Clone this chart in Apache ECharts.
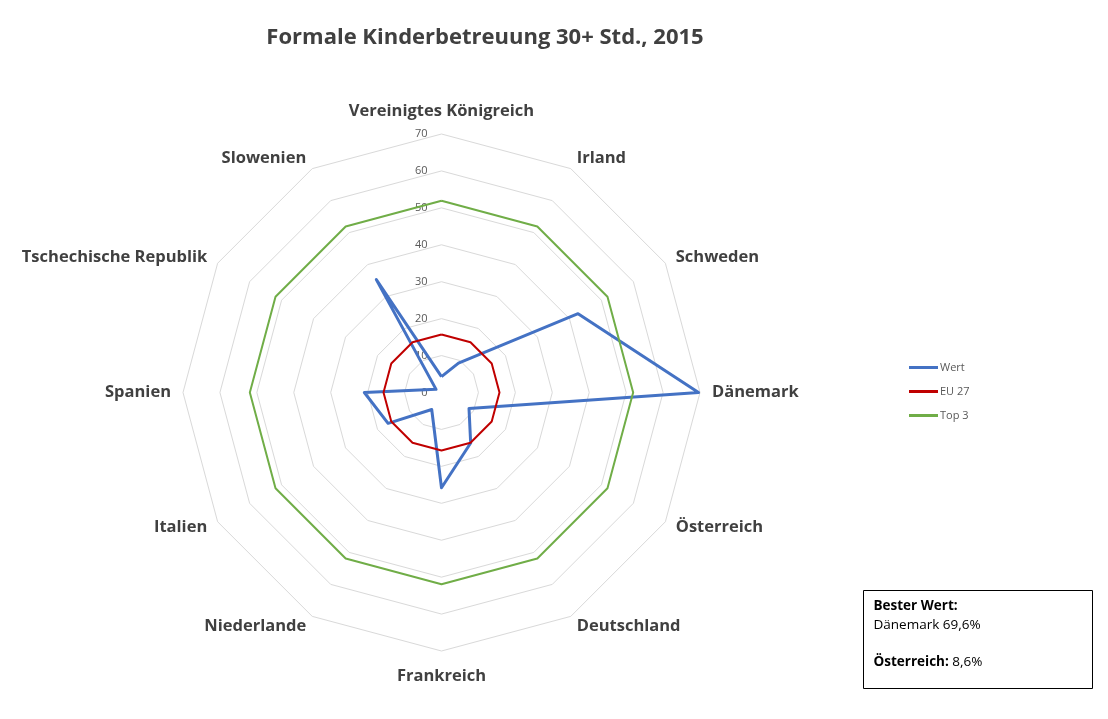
<!DOCTYPE html>
<html>
<head>
<meta charset="utf-8">
<script src="https://cdn.jsdelivr.net/npm/echarts@6/dist/echarts.min.js"></script>
<style>
html,body{margin:0;padding:0;background:#fff;}
#chart{width:1108px;height:719px;}
</style>
</head>
<body>
<div id="chart"></div>
<script>
// Categories in clockwise order starting at the top
const categories = ['Vereinigtes Königreich','Irland','Schweden','Dänemark','Österreich','Deutschland','Frankreich','Niederlande','Italien','Spanien','Tschechische Republik','Slowenien'];
const wert  = [4.3, 9.2, 42.7, 69.6, 8.6, 15.8, 25.8, 5.3, 16.7, 20.9, 1.7, 35.3];
const eu27  = [15.7, 15.7, 15.7, 15.7, 15.7, 15.7, 15.7, 15.7, 15.7, 15.7, 15.7, 15.7];
const top3  = [51.9, 51.9, 51.9, 51.9, 51.9, 51.9, 51.9, 51.9, 51.9, 51.9, 51.9, 51.9];
const tickValues = [0, 10, 20, 30, 40, 50, 60, 70];
const seriesNames = ['Wert', 'EU 27', 'Top 3'];

// ECharts radar runs counter-clockwise: reorder to keep the top first, then reversed
function ccw(arr){ return [arr[0]].concat(arr.slice(1).reverse()); }

const FONT = '"Open Sans", "Noto Sans", sans-serif';
const CX = 441.5, CY = 392.5, R = 258.5;
const MAX = tickValues[tickValues.length - 1];
const STEP = tickValues[1] - tickValues[0];
const nameStyle = {fontFamily: FONT, fontWeight: 'bold', fontSize: 16.5, color: '#404040'};

const chart = echarts.init(document.getElementById('chart'), null, {renderer: 'canvas'});
chart.setOption({
  backgroundColor: '#ffffff',
  animation: false,
  title: {
    text: 'Formale Kinderbetreuung 30+ Std., 2015',
    left: 480, top: 22, textAlign: 'center',
    textStyle: {fontFamily: FONT, fontWeight: 'bold', fontSize: 22, color: '#404040'}
  },
  legend: {
    orient: 'vertical',
    left: 904, top: 357,
    itemWidth: 29, itemHeight: 3, itemGap: 13,
    icon: 'rect',
    data: seriesNames,
    textStyle: {fontFamily: FONT, fontSize: 11, color: '#595959', padding: [0,0,0,-3]}
  },
  radar: {
    center: [CX, CY],
    radius: R,
    startAngle: 90,
    shape: 'polygon',
    splitNumber: tickValues.length - 1,
    nameGap: 12,
    axisName: Object.assign({}, nameStyle, {
      formatter: function (name) {
        if (name === categories[0]) return '{t|' + name + '}';
        if (name === categories[6]) return '{b|' + name + '}';
        return name;
      },
      rich: {
        t: Object.assign({}, nameStyle, {padding: [0, 0, 2, 0]}),
        b: Object.assign({}, nameStyle, {padding: [5, 0, 0, 0]})
      }
    }),
    axisLine: {show: false},
    axisTick: {show: false},
    axisLabel: {show: false},
    splitLine: {lineStyle: {color: '#d9d9d9', width: 1}},
    splitArea: {show: false},
    indicator: ccw(categories).map(n => ({name: n, min: 0, max: MAX}))
  },
  polar: {center: [CX, CY], radius: R},
  angleAxis: {show: false, min: 0, max: 360, startAngle: 90},
  radiusAxis: {
    min: 0, max: MAX, interval: STEP,
    axisLine: {show: false}, axisTick: {show: false}, splitLine: {show: false},
    axisLabel: {show: true, fontFamily: FONT, fontSize: 11, color: '#595959', margin: 14}
  },
  series: [{
    type: 'radar',
    symbol: 'none',
    data: [
      {name: seriesNames[0], value: ccw(wert), lineStyle: {color: '#4472C4', width: 3}, itemStyle: {color: '#4472C4'}},
      {name: seriesNames[1], value: ccw(eu27), lineStyle: {color: '#C00000', width: 2}, itemStyle: {color: '#C00000'}},
      {name: seriesNames[2], value: ccw(top3), lineStyle: {color: '#70AD47', width: 2}, itemStyle: {color: '#70AD47'}}
    ]
  }],
  graphic: [{
    type: 'group', left: 863, top: 590,
    children: [
      {type: 'rect', shape: {x: 0, y: 0, width: 229, height: 98}, style: {fill: '#fff', stroke: '#000', lineWidth: 1}},
      {type: 'text', left: 10, top: 9, style: {
        text: '{g|Bester Wert:}\n{k|Dänemark 69,6%}\n{k| }\n{g|Österreich:}{k| 8,6%}',
        rich: {
          g: {fontFamily: FONT, fontWeight: 'bold', fontSize: 13.5, color: '#595959', lineHeight: 18.5},
          k: {fontFamily: FONT, fontSize: 13.5, color: '#000', lineHeight: 18.5}
        }
      }}
    ]
  }]
});
</script>
</body>
</html>
